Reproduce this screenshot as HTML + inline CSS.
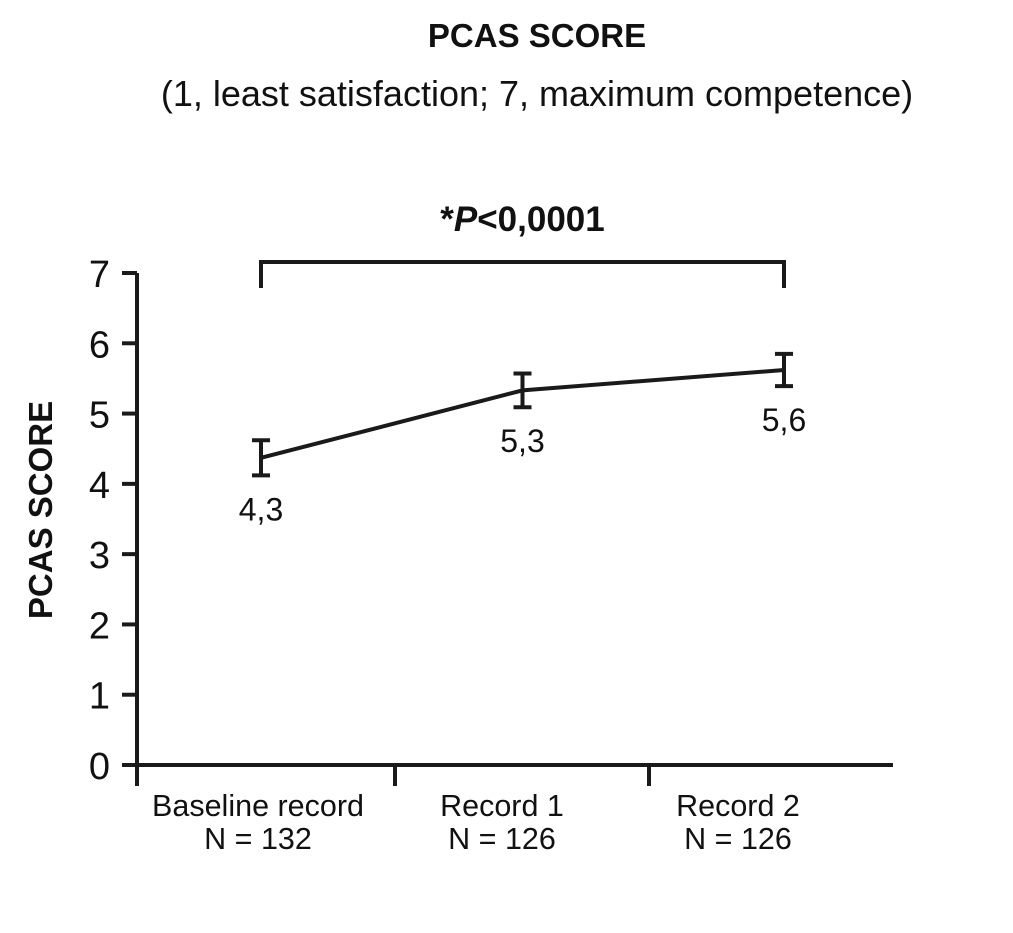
<!DOCTYPE html>
<html><head><meta charset="utf-8"><style>
html,body{margin:0;padding:0;background:#fff;}
svg{display:block;font-family:"Liberation Sans",sans-serif;}
</style></head><body>
<svg id="chart" width="1013" height="933" viewBox="0 0 1013 933">
<text x="537" y="47" text-anchor="middle" font-size="33" font-weight="bold" fill="#111">PCAS SCORE</text>
<text x="537" y="106" text-anchor="middle" font-size="36" fill="#111">(1, least satisfaction; 7, maximum competence)</text>
<text transform="translate(52,510) rotate(-90)" text-anchor="middle" font-size="33" font-weight="bold" fill="#111">PCAS SCORE</text>
<g id="axes"></g>
<g id="marks"></g>
</svg>
<script>
const categories = ["Baseline record", "Record 1", "Record 2"];
const sampleSizes = ["N = 132", "N = 126", "N = 126"];
const meanValues = [4.37, 5.33, 5.62];
const errorValues = [0.25, 0.24, 0.23];
const valueLabels = ["4,3", "5,3", "5,6"];
const yTicks = [0, 1, 2, 3, 4, 5, 6, 7];
const pLabel = "P<0,0001";

const NS = "http://www.w3.org/2000/svg";
const y = v => 765 - v * (765 - 273) / 7;
const x = i => 261 + i * 261.5;
function el(tag, attrs, parent, text) {
  const e = document.createElementNS(NS, tag);
  for (const k in attrs) e.setAttribute(k, attrs[k]);
  if (text !== undefined) e.textContent = text;
  parent.appendChild(e);
  return e;
}
const axes = document.getElementById("axes");
const marks = document.getElementById("marks");
const stroke = {stroke: "#1a1a1a", "stroke-width": 4, fill: "none"};

let a = el("line", Object.assign({x1: 137, y1: 273, x2: 137, y2: 786}, stroke), axes);


a = el("line", Object.assign({x1: 122, y1: 765, x2: 893, y2: 765}, stroke), axes);



yTicks.forEach(t => {
  const tk = el("line", Object.assign({x1: 122, y1: y(t), x2: 137, y2: y(t)}, stroke), axes);
  
  
  const lb = el("text", {x: 110, y: y(t) + 14, "text-anchor": "end", "font-size": 38, fill: "#111"}, axes, String(t));
  
  
});
[395, 649].forEach(px => {
  const tk = el("line", Object.assign({x1: px, y1: 765, x2: px, y2: 786}, stroke), axes);
  
  
});
const labelX = [258, 502, 738];
categories.forEach((c, i) => {
  const t1 = el("text", {x: labelX[i], y: 816, "text-anchor": "middle", "font-size": 30.5, fill: "#111"}, axes, c);
  
  
  const t2 = el("text", {x: labelX[i], y: 849, "text-anchor": "middle", "font-size": 30.5, fill: "#111"}, axes, sampleSizes[i]);
  
  
});

const pts = meanValues.map((v, i) => x(i) + "," + y(v)).join(" ");
const pl = el("polyline", Object.assign({points: pts}, stroke), marks);


meanValues.forEach((v, i) => {
  const g = el("g", {}, marks);
  
  
  const hi = y(v + errorValues[i]), lo = y(v - errorValues[i]);
  el("line", Object.assign({x1: x(i), y1: hi, x2: x(i), y2: lo}, stroke), g);
  el("line", Object.assign({x1: x(i) - 9, y1: hi, x2: x(i) + 9, y2: hi}, stroke), g);
  el("line", Object.assign({x1: x(i) - 9, y1: lo, x2: x(i) + 9, y2: lo}, stroke), g);
  const lb = el("text", {x: x(i), y: lo + 45, "text-anchor": "middle", "font-size": 32, fill: "#111"}, marks, valueLabels[i]);
  
  
});
const br = el("polyline", Object.assign({points: `${x(0)},288 ${x(0)},262 ${x(2)},262 ${x(2)},288`}, stroke), marks);


const pt = el("text", {x: (x(0) + x(2)) / 2, y: 231, "text-anchor": "middle", "font-size": 35, "font-weight": "bold", fill: "#111"}, marks);


el("tspan", {}, pt, "*");
el("tspan", {"font-style": "italic"}, pt, "P");
el("tspan", {}, pt, pLabel.slice(1));
</script>
</body></html>
